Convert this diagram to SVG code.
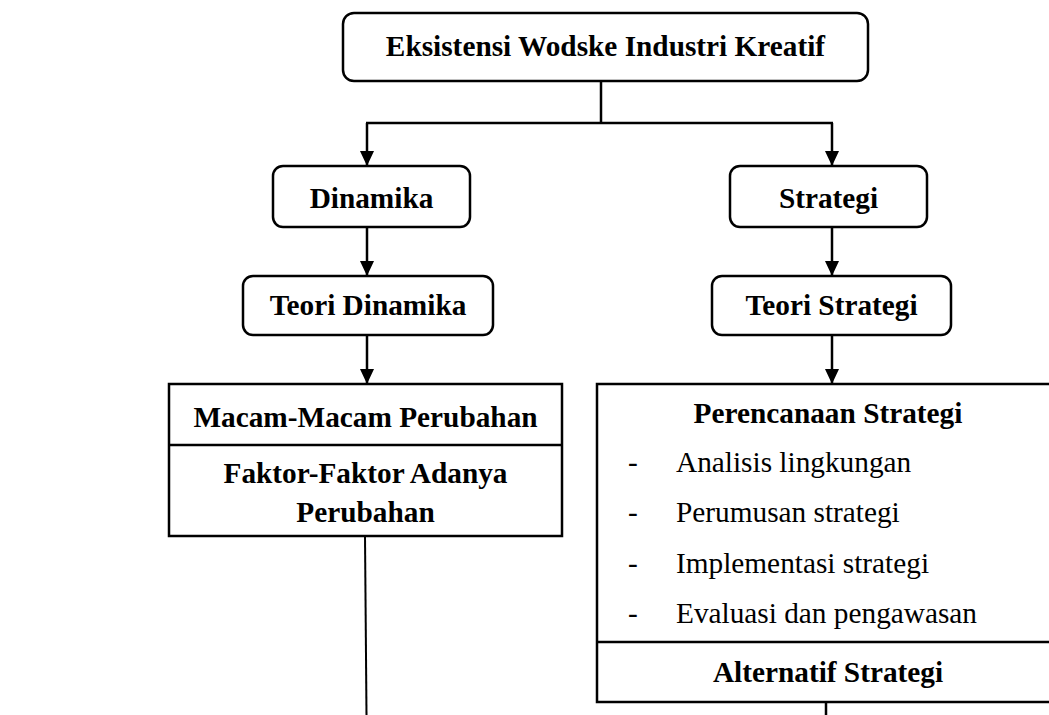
<svg xmlns="http://www.w3.org/2000/svg" width="1049" height="715" viewBox="0 0 1049 715">
  <style>
    .rbox { fill: #ffffff; stroke: #000000; stroke-width: 2.5; }
    .box { fill: #ffffff; stroke: #000000; stroke-width: 2.5; }
    .div { stroke: #000000; stroke-width: 2.5; fill: none; }
    .conn { stroke: #000000; stroke-width: 2.5; fill: none; }
    .thin { stroke: #000000; stroke-width: 2; fill: none; }
    .b { font-family: "Liberation Serif", "Times New Roman", serif; font-weight: bold; font-size: 29.3px; fill: #000000; text-anchor: middle; }
    .r { font-family: "Liberation Serif", "Times New Roman", serif; font-size: 29.3px; fill: #000000; }
  </style>
  <defs>
    <marker id="arrow" markerUnits="userSpaceOnUse" markerWidth="15" markerHeight="14" viewBox="0 0 15 14" refX="15" refY="7" orient="auto">
      <path d="M0,0 L15,7 L0,14 z" fill="#000000"/>
    </marker>
  </defs>

  <g id="connectors">
    <path class="conn" d="M601,81 V123"/>
    <path class="conn" d="M366,123 H833"/>
    <path class="conn" d="M367,123 V166" marker-end="url(#arrow)"/>
    <path class="conn" d="M832,123 V166" marker-end="url(#arrow)"/>
    <path class="conn" d="M367,227 V276" marker-end="url(#arrow)"/>
    <path class="conn" d="M832,227 V276" marker-end="url(#arrow)"/>
    <path class="conn" d="M367,335 V384" marker-end="url(#arrow)"/>
    <path class="conn" d="M832,335 V384" marker-end="url(#arrow)"/>
    <path class="thin" d="M365,536 L366.5,715"/>
    <path class="conn" d="M826,702 V715"/>
  </g>

  <g id="node-eksistensi">
    <rect class="rbox" x="343" y="13" width="525" height="68" rx="11" ry="11"/>
    <text class="b" x="605.5" y="56">Eksistensi Wodske Industri Kreatif</text>
  </g>

  <g id="node-dinamika">
    <rect class="rbox" x="273" y="166" width="197" height="61" rx="10" ry="10"/>
    <text class="b" x="371.5" y="208">Dinamika</text>
  </g>

  <g id="node-strategi">
    <rect class="rbox" x="730" y="166" width="197" height="61" rx="10" ry="10"/>
    <text class="b" x="828.5" y="208">Strategi</text>
  </g>

  <g id="node-teori-dinamika">
    <rect class="rbox" x="243" y="276" width="250" height="59" rx="10" ry="10"/>
    <text class="b" x="368" y="315">Teori Dinamika</text>
  </g>

  <g id="node-teori-strategi">
    <rect class="rbox" x="712" y="276" width="239" height="59" rx="10" ry="10"/>
    <text class="b" x="831.5" y="315">Teori Strategi</text>
  </g>

  <g id="node-perubahan">
    <rect class="box" x="169" y="384" width="393" height="152"/>
    <line class="div" x1="169" y1="445" x2="562" y2="445"/>
    <text class="b" x="365.5" y="427">Macam-Macam Perubahan</text>
    <text class="b" x="365.5" y="483">Faktor-Faktor Adanya</text>
    <text class="b" x="365.5" y="522">Perubahan</text>
  </g>

  <g id="node-perencanaan">
    <rect class="box" x="597" y="384" width="470" height="318"/>
    <line class="div" x1="597" y1="642" x2="1067" y2="642"/>
    <text class="b" x="828" y="423">Perencanaan Strategi</text>
    <text class="r" x="628" y="472">-</text>
    <text class="r" x="676" y="472">Analisis lingkungan</text>
    <text class="r" x="628" y="522">-</text>
    <text class="r" x="676" y="522">Perumusan strategi</text>
    <text class="r" x="628" y="573">-</text>
    <text class="r" x="676" y="573">Implementasi strategi</text>
    <text class="r" x="628" y="623">-</text>
    <text class="r" x="676" y="623">Evaluasi dan pengawasan</text>
    <text class="b" x="828" y="682">Alternatif Strategi</text>
  </g>
</svg>
